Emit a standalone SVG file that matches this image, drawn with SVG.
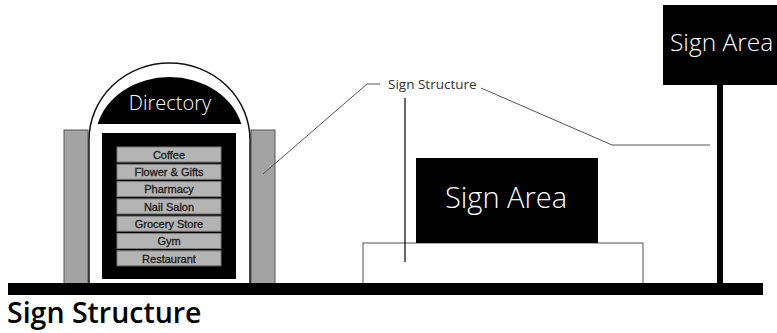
<svg xmlns="http://www.w3.org/2000/svg" width="777" height="333" viewBox="0 0 777 333">
<style>
.t{font-family:"Open Sans","DejaVu Sans",sans-serif}
.item{fill:#b4b4b4;stroke:#7a7a7a;stroke-width:1}
.itxt{font-family:"Liberation Sans",Arial,sans-serif;font-size:11px;fill:#1a1a1a;text-anchor:middle;stroke:#1a1a1a;stroke-width:0.3}
.lead{fill:none;stroke:#555;stroke-width:1}
</style>
<rect width="777" height="333" fill="#fff"/>
<g id="directory">
<rect x="64" y="130" width="24" height="154" fill="#a3a3a3" stroke="#555" stroke-width="1"/>
<rect x="251" y="130" width="24" height="154" fill="#a3a3a3" stroke="#555" stroke-width="1"/>
<path d="M89,284 L89,140 A80.5,77 0 0 1 250,140 L250,284 Z" fill="#fff" stroke="#111" stroke-width="1.5"/>
<path d="M97.7,124 A74,62 0 0 1 241.3,124 Z" fill="#000"/>
<text class="t" x="170" y="110" font-size="20" font-weight="300" fill="#fff" text-anchor="middle">Directory</text>
<rect x="102" y="133" width="134" height="146" fill="#000"/>
<rect class="item" x="117" y="147" width="104" height="15"/>
<rect class="item" x="117" y="164.3" width="104" height="15"/>
<rect class="item" x="117" y="181.6" width="104" height="15"/>
<rect class="item" x="117" y="198.9" width="104" height="15"/>
<rect class="item" x="117" y="216.2" width="104" height="15"/>
<rect class="item" x="117" y="233.5" width="104" height="15"/>
<rect class="item" x="117" y="250.8" width="104" height="15"/>
<text class="itxt" x="169" y="158.8">Coffee</text>
<text class="itxt" x="169" y="176.1">Flower &amp; Gifts</text>
<text class="itxt" x="169" y="193.4">Pharmacy</text>
<text class="itxt" x="169" y="210.7">Nail Salon</text>
<text class="itxt" x="169" y="228">Grocery Store</text>
<text class="itxt" x="169" y="245.3">Gym</text>
<text class="itxt" x="169" y="262.6">Restaurant</text>
</g>
<g id="monument-sign">
<rect x="363" y="243" width="280" height="41" fill="#fff" stroke="#555" stroke-width="1"/>
<rect x="416" y="158" width="182" height="85" fill="#000"/>
<text class="t" x="506" y="208" font-size="29" font-weight="300" fill="#fff" text-anchor="middle">Sign Area</text>
</g>
<g id="pole-sign">
<rect x="717" y="84" width="6" height="200" fill="#000"/>
<rect x="663" y="5" width="120" height="80" fill="#000"/>
<text class="t" x="670" y="51" font-size="24.5" font-weight="300" fill="#fff">Sign Area</text>
</g>
<g id="ground">
<rect x="8" y="283" width="755" height="12" fill="#000"/>
</g>
<g id="connectors">
<polyline class="lead" points="263,174 367,84 380,84" stroke="#888"/>
<polyline class="lead" points="481,88 612,145 710,145"/>
<line x1="405" y1="98" x2="405" y2="262" stroke="#000" stroke-width="1.2"/>
</g>
<g id="labels">
<text class="t" x="388" y="89" font-size="13.5" fill="#333">Sign Structure</text>
<text class="t" x="7" y="323" font-size="28.5" font-weight="600" fill="#000">Sign Structure</text>
</g>
</svg>
